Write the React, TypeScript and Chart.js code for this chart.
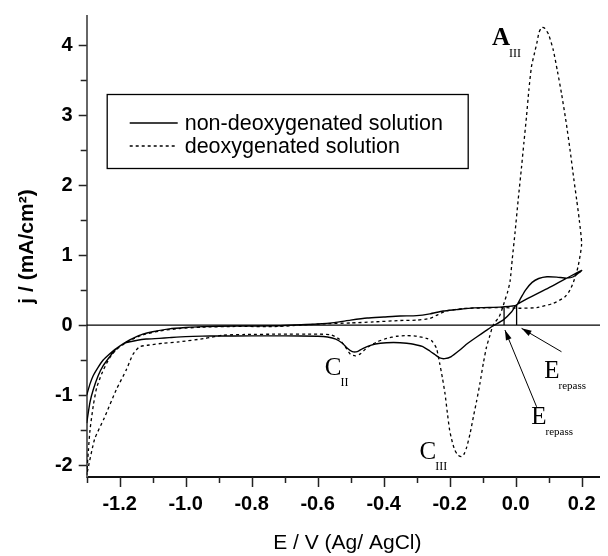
import React, { useEffect, useRef } from "react";
import { Chart, registerables } from "chart.js";

Chart.register(...registerables);

// ---------- data ----------
const SOLID_E = [
  -1.3, -1.29, -1.28, -1.265, -1.25, -1.23, -1.215, -1.2, -1.18, -1.16, -1.13, -1.1, -1.05, -1.0, -0.95, -0.85,
  -0.72, -0.65, -0.6, -0.55, -0.5, -0.45, -0.4, -0.35, -0.3, -0.26, -0.22, -0.18, -0.13, -0.08, -0.04, 0.003,
  0.015, 0.03, 0.05, 0.07, 0.095, 0.125, 0.155, 0.175, 0.2,
  0.1, 0.003,
  -0.012, -0.038, -0.068, -0.09, -0.118, -0.145, -0.17, -0.195, -0.215, -0.23, -0.245, -0.26, -0.28, -0.3, -0.33,
  -0.37, -0.41, -0.44, -0.465, -0.48, -0.495, -0.51, -0.525, -0.545, -0.57, -0.6, -0.7, -0.8, -0.9, -0.95, -1.0,
  -1.05, -1.08, -1.12, -1.15, -1.18, -1.2, -1.215, -1.23, -1.25, -1.265, -1.28, -1.29, -1.3,
];
const SOLID_J = [
  -1.0, -0.84, -0.72, -0.6, -0.5, -0.41, -0.35, -0.3, -0.24, -0.19, -0.13, -0.095, -0.055, -0.035, -0.022, -0.014,
  -0.01, 0.005, 0.015, 0.035, 0.07, 0.1, 0.115, 0.13, 0.135, 0.16, 0.2, 0.22, 0.245, 0.25, 0.26, 0.286,
  0.38, 0.5, 0.61, 0.665, 0.69, 0.685, 0.67, 0.69, 0.78,
  0.53, 0.29,
  0.19, 0.07, -0.01, -0.08, -0.17, -0.26, -0.36, -0.45, -0.48, -0.47, -0.42, -0.37, -0.31, -0.285, -0.26,
  -0.25, -0.26, -0.29, -0.34, -0.38, -0.38, -0.33, -0.26, -0.2, -0.17, -0.16, -0.155, -0.155, -0.156, -0.158, -0.165,
  -0.18, -0.19, -0.2, -0.22, -0.25, -0.3, -0.36, -0.45, -0.58, -0.72, -0.92, -1.1, -1.4,
];

const DEOX_E = [
  -1.3, -1.295, -1.29, -1.28, -1.27, -1.255, -1.24, -1.225, -1.21, -1.19, -1.16, -1.13, -1.08, -1.02, -0.95, -0.85,
  -0.72, -0.65, -0.57, -0.5, -0.43, -0.35, -0.3, -0.26, -0.235, -0.21, -0.16, -0.1, -0.035, 0.008, 0.064, 0.114,
  0.149, 0.165, 0.178, 0.19, 0.2,
  0.193, 0.185, 0.176, 0.165, 0.153, 0.139, 0.127, 0.114, 0.1, 0.088, 0.079, 0.071, 0.064, 0.056, 0.048, 0.04,
  0.033, 0.025, 0.018, 0.008, -0.002, -0.01, -0.017, -0.025, -0.032, -0.04, -0.05, -0.068, -0.078, -0.088, -0.098,
  -0.108, -0.118, -0.128, -0.138, -0.148, -0.156, -0.164, -0.174, -0.184, -0.192, -0.2, -0.207, -0.214, -0.222,
  -0.23, -0.24, -0.255, -0.27, -0.3, -0.33, -0.36, -0.39, -0.42, -0.45, -0.47, -0.485, -0.5, -0.515, -0.535, -0.56,
  -0.6, -0.72, -0.82, -0.886, -0.94, -1.02, -1.07, -1.11, -1.14, -1.16, -1.18, -1.21, -1.247, -1.276, -1.3,
];
const DEOX_J = [
  -2.14, -1.8, -1.5, -1.15, -0.9, -0.7, -0.55, -0.43, -0.35, -0.28, -0.2, -0.14, -0.085, -0.05, -0.03, -0.02,
  -0.02, 0.0, 0.02, 0.03, 0.045, 0.065, 0.07, 0.095, 0.15, 0.2, 0.235, 0.245, 0.25, 0.24, 0.25, 0.31,
  0.4, 0.5, 0.65, 0.85, 1.16,
  1.5, 1.79, 2.1, 2.5, 2.9, 3.31, 3.62, 3.93, 4.15, 4.24, 4.25, 4.18, 4.02, 3.86, 3.69, 3.35,
  2.98, 2.6, 2.26, 1.8, 1.31, 0.95, 0.62, 0.46, 0.36, 0.24, 0.12, 0.0, -0.15, -0.31, -0.55,
  -0.83, -1.08, -1.31, -1.55, -1.74, -1.84, -1.88, -1.86, -1.79, -1.67, -1.5, -1.25, -0.98, -0.75,
  -0.55, -0.33, -0.22, -0.19, -0.16, -0.15, -0.16, -0.19, -0.24, -0.32, -0.41, -0.44, -0.42, -0.32, -0.2, -0.14,
  -0.13, -0.13, -0.135, -0.145, -0.19, -0.24, -0.26, -0.285, -0.31, -0.42, -0.64, -0.92, -1.33, -1.63, -2.14,
];

const REPASS_SOLID_E = [0.003, 0.003];
const REPASS_SOLID_J = [0, 0.286];
const REPASS_DEOX_E = [-0.035, -0.035];
const REPASS_DEOX_J = [0, 0.25];

const SERIES_LABELS = ["non-deoxygenated solution", "deoxygenated solution"];

const X_MAJOR = [-1.2, -1.0, -0.8, -0.6, -0.4, -0.2, 0.0, 0.2];
const X_LABELS = ["-1.2", "-1.0", "-0.8", "-0.6", "-0.4", "-0.2", "0.0", "0.2"];
const X_MINOR = [-1.3, -1.1, -0.9, -0.7, -0.5, -0.3, -0.1, 0.1];
const Y_MAJOR = [-2, -1, 0, 1, 2, 3, 4];
const Y_LABELS = ["-2", "-1", "0", "1", "2", "3", "4"];
const Y_MINOR = [-1.5, -0.5, 0.5, 1.5, 2.5, 3.5];

const X_TITLE = "E / V (Ag/ AgCl)";
const Y_TITLE = "j / (mA/cm²)";

// annotation labels (data coordinates of the main letter centre)
const NOTE_TEXT = ["A", "C", "C", "E", "E"];
const NOTE_SUB = ["III", "II", "III", "repass", "repass"];
const NOTE_E = [-0.0445, -0.553, -0.266, 0.11, 0.0706];
const NOTE_J = [4.09, -0.614, -1.814, -0.657, -1.314];

// arrows (data coordinates): tail -> head
const ARROW_FROM_E = [0.139, 0.0636];
const ARROW_FROM_J = [-0.381, -1.167];
const ARROW_TO_E = [0.018, -0.0324];
const ARROW_TO_J = [-0.047, -0.071];

// ---------- styling ----------
const SANS = '"Liberation Sans", Arial, Helvetica, sans-serif';
const SERIF = '"Liberation Serif", "Times New Roman", serif';

const pts = (xs: number[], ys: number[]) => xs.map((x, i) => ({ x, y: ys[i] }));
const near = (arr: number[], v: number) => arr.findIndex((m) => Math.abs(m - v) < 1e-6);

const decorPlugin = {
  id: "decor",
  beforeDatasetsDraw(chart: any) {
    const { ctx, chartArea, scales } = chart;
    const y0 = scales.y.getPixelForValue(0);
    ctx.save();
    ctx.strokeStyle = "#000";
    ctx.lineWidth = 1.2;
    ctx.beginPath();
    ctx.moveTo(chartArea.left, y0);
    ctx.lineTo(chartArea.right, y0);
    ctx.stroke();
    ctx.restore();
  },
  afterDraw(chart: any) {
    const { ctx, chartArea, scales } = chart;
    const xs = scales.x;
    const ys = scales.y;
    ctx.save();
    // tick marks
    ctx.strokeStyle = "#222";
    ctx.lineWidth = 1.5;
    ctx.beginPath();
    X_MAJOR.concat(X_MINOR).forEach((v) => {
      const p = Math.round(xs.getPixelForValue(v)) + 0.5;
      const len = near(X_MAJOR, v) >= 0 ? 10 : 6;
      ctx.moveTo(p, chartArea.bottom);
      ctx.lineTo(p, chartArea.bottom + len);
    });
    Y_MAJOR.concat(Y_MINOR).forEach((v) => {
      const p = Math.round(ys.getPixelForValue(v)) + 0.5;
      const len = near(Y_MAJOR, v) >= 0 ? 8 : 6;
      ctx.moveTo(chartArea.left, p);
      ctx.lineTo(chartArea.left - len, p);
    });
    ctx.stroke();

    // legend box
    const bx = chartArea.left + 20;
    const by = chartArea.top + 78;
    const bw = 361;
    const bh = 74;
    ctx.fillStyle = "#fff";
    ctx.fillRect(bx, by, bw, bh);
    ctx.strokeStyle = "#000";
    ctx.lineWidth = 1.3;
    ctx.strokeRect(bx + 0.5, by + 0.5, bw, bh);
    const rows = [by + 29, by + 52];
    chart.data.datasets.slice(0, 2).forEach((ds: any, i: number) => {
      ctx.beginPath();
      ctx.strokeStyle = "#000";
      ctx.lineWidth = ds.borderWidth;
      ctx.setLineDash(ds.borderDash || []);
      ctx.moveTo(bx + 23, rows[i]);
      ctx.lineTo(bx + 71, rows[i]);
      ctx.stroke();
      ctx.setLineDash([]);
      ctx.fillStyle = "#000";
      ctx.font = `21.5px ${SANS}`;
      ctx.textAlign = "left";
      ctx.textBaseline = "middle";
      ctx.fillText(ds.label, bx + 78, rows[i] + 1);
    });

    // arrows
    ctx.strokeStyle = "#000";
    ctx.fillStyle = "#000";
    ctx.lineWidth = 1;
    ARROW_FROM_E.forEach((_, i) => {
      const x1 = xs.getPixelForValue(ARROW_FROM_E[i]);
      const y1 = ys.getPixelForValue(ARROW_FROM_J[i]);
      const x2 = xs.getPixelForValue(ARROW_TO_E[i]);
      const y2 = ys.getPixelForValue(ARROW_TO_J[i]);
      const a = Math.atan2(y2 - y1, x2 - x1);
      ctx.beginPath();
      ctx.moveTo(x1, y1);
      ctx.lineTo(x2, y2);
      ctx.stroke();
      const hl = 10;
      const hw = 3;
      ctx.beginPath();
      ctx.moveTo(x2, y2);
      ctx.lineTo(x2 - hl * Math.cos(a) + hw * Math.sin(a), y2 - hl * Math.sin(a) - hw * Math.cos(a));
      ctx.lineTo(x2 - hl * Math.cos(a) - hw * Math.sin(a), y2 - hl * Math.sin(a) + hw * Math.cos(a));
      ctx.closePath();
      ctx.fill();
    });

    // annotation letters
    NOTE_TEXT.forEach((t, i) => {
      const px = xs.getPixelForValue(NOTE_E[i]);
      const py = ys.getPixelForValue(NOTE_J[i]);
      ctx.font = `${i === 0 ? "bold " : ""}25px ${SERIF}`;
      ctx.textAlign = "center";
      ctx.textBaseline = "middle";
      ctx.fillText(t, px, py);
      const w = ctx.measureText(t).width;
      ctx.font = `${NOTE_SUB[i] === "repass" ? 11 : 12}px ${SERIF}`;
      ctx.textAlign = "left";
      ctx.fillText(NOTE_SUB[i], px + w / 2 - 1, py + 15);
    });
    ctx.restore();
  },
};

export default function App() {
  const ref = useRef<HTMLCanvasElement>(null);

  useEffect(() => {
    if (!ref.current) return;
    const chart = new Chart(ref.current, {
      type: "scatter",
      data: {
        datasets: [
          {
            label: SERIES_LABELS[0],
            data: pts(SOLID_E, SOLID_J),
            showLine: true,
            borderColor: "#000",
            borderWidth: 1.4,
            pointRadius: 0,
            tension: 0.2,
            fill: false,
          },
          {
            label: SERIES_LABELS[1],
            data: pts(DEOX_E, DEOX_J),
            showLine: true,
            borderColor: "#000",
            borderWidth: 1.3,
            borderDash: [3, 3],
            pointRadius: 0,
            tension: 0.2,
            fill: false,
          },
          {
            label: "repass-solid",
            data: pts(REPASS_SOLID_E, REPASS_SOLID_J),
            showLine: true,
            borderColor: "#000",
            borderWidth: 1.3,
            pointRadius: 0,
          },
          {
            label: "repass-deox",
            data: pts(REPASS_DEOX_E, REPASS_DEOX_J),
            showLine: true,
            borderColor: "#000",
            borderWidth: 1.3,
            pointRadius: 0,
          },
        ],
      } as any,
      options: {
        animation: false,
        responsive: false,
        layout: { padding: { top: 8, right: 0, bottom: 0, left: 0 } },
        plugins: { legend: { display: false }, tooltip: { enabled: false } },
        scales: {
          x: {
            type: "linear",
            position: "bottom",
            min: -1.3,
            max: 0.28,
            grid: { display: false, drawTicks: false },
            border: { display: true, color: "#111", width: 2 },
            afterBuildTicks: (s: any) => {
              s.ticks = X_MAJOR.concat(X_MINOR)
                .sort((a, b) => a - b)
                .map((v) => ({ value: v }));
            },
            afterFit: (s: any) => {
              s.height = 79;
              s.paddingLeft = 0;
              s.paddingRight = 0;
              s.paddingTop = 0;
              s.paddingBottom = 0;
            },
            ticks: {
              autoSkip: false,
              maxRotation: 0,
              padding: 15,
              color: "#000",
              font: { family: SANS, size: 20, weight: "bold" },
              callback: (v: any) => {
                const i = near(X_MAJOR, Number(v));
                return i >= 0 ? X_LABELS[i] : "";
              },
            },
            title: {
              display: true,
              text: X_TITLE,
              color: "#000",
              font: { family: SANS, size: 21 },
              padding: { top: 0, bottom: 0 },
            },
          },
          y: {
            type: "linear",
            position: "left",
            min: -2.17,
            max: 4.414,
            grid: { display: false, drawTicks: false },
            border: { display: true, color: "#666", width: 2 },
            afterBuildTicks: (s: any) => {
              s.ticks = Y_MAJOR.concat(Y_MINOR)
                .sort((a, b) => a - b)
                .map((v) => ({ value: v }));
            },
            afterFit: (s: any) => {
              s.width = 78.7;
              s.paddingLeft = 0;
              s.paddingRight = 0;
              s.paddingTop = 0;
              s.paddingBottom = 0;
            },
            ticks: {
              autoSkip: false,
              padding: 14,
              color: "#000",
              font: { family: SANS, size: 20, weight: "bold" },
              callback: (v: any) => {
                const i = near(Y_MAJOR, Number(v));
                return i >= 0 ? Y_LABELS[i] : "";
              },
            },
            title: {
              display: true,
              text: Y_TITLE,
              color: "#000",
              font: { family: SANS, size: 21, weight: "bold" },
              padding: { top: 7, bottom: 0 },
            },
          },
        },
      } as any,
      plugins: [decorPlugin],
    });
    return () => chart.destroy();
  }, []);

  return (
    <div style={{ width: 600, height: 548 }}>
      <canvas ref={ref} width={600} height={548} style={{ display: "block", width: 600, height: 548 }} />
    </div>
  );
}
